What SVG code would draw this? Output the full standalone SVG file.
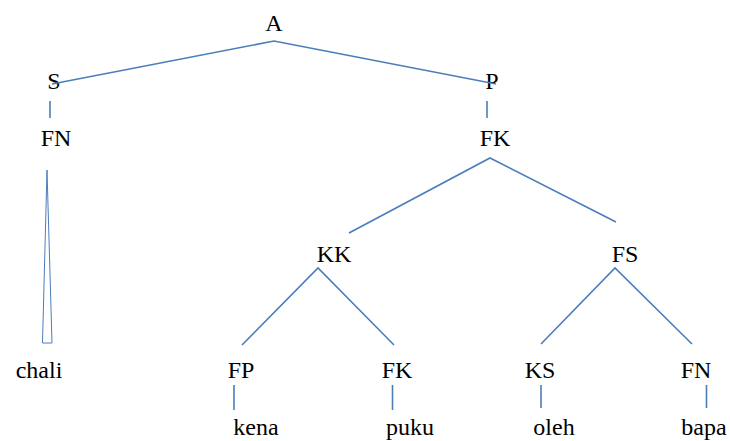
<svg xmlns="http://www.w3.org/2000/svg" width="730" height="441" viewBox="0 0 730 441">
  <style>
    .lbl { font-family: 'Liberation Serif', 'DejaVu Serif', 'Times New Roman', Times, serif; font-size: 24px; fill: #000; text-anchor: middle; }
    .edge { stroke: #4a7ebb; stroke-width: 1.6; fill: none; stroke-linecap: butt; }
    .tri { stroke: #4a7ebb; stroke-width: 1; fill: none; }
  </style>
  <rect width="730" height="441" fill="#fff"/>

  <!-- tree nodes -->
  <g id="n-A"><text class="lbl" x="274" y="31">A</text></g>
  <g id="n-S"><text class="lbl" x="54" y="89">S</text></g>
  <g id="n-P"><text class="lbl" x="492" y="89">P</text></g>
  <g id="n-FN1"><text class="lbl" x="56" y="146">FN</text></g>
  <g id="n-FK1"><text class="lbl" x="495" y="146">FK</text></g>
  <g id="n-chali"><text class="lbl" x="39" y="378">chali</text></g>
  <g id="n-KK"><text class="lbl" x="334" y="262">KK</text></g>
  <g id="n-FS"><text class="lbl" x="625" y="262">FS</text></g>
  <g id="n-FP"><text class="lbl" x="241" y="378">FP</text></g>
  <g id="n-FK2"><text class="lbl" x="397" y="378">FK</text></g>
  <g id="n-KS"><text class="lbl" x="540" y="378">KS</text></g>
  <g id="n-FN2"><text class="lbl" x="696" y="378">FN</text></g>
  <g id="n-kena"><text class="lbl" x="256" y="435">kena</text></g>
  <g id="n-puku"><text class="lbl" x="410" y="435">puku</text></g>
  <g id="n-oleh"><text class="lbl" x="554" y="435">oleh</text></g>
  <g id="n-bapa"><text class="lbl" x="704" y="435">bapa</text></g>

  <g id="connectors">
    <!-- A branches -->
    <polyline class="edge" points="52,84 274,41 496,84"/>
    <!-- unary links -->
    <line class="edge" x1="50" y1="101" x2="50" y2="118"/>
    <line class="edge" x1="487" y1="101" x2="487" y2="118"/>
    <!-- roof over chali -->
    <polygon class="tri" points="47,170 52,343 42.5,343"/>
    <!-- FK branches -->
    <polyline class="edge" points="349,233 490,158 616,222"/>
    <!-- KK branches -->
    <polyline class="edge" points="242,345 318,268 394,345"/>
    <!-- FS branches -->
    <polyline class="edge" points="541,344 615,268 692,344"/>
    <!-- terminal links -->
    <line class="edge" x1="234" y1="385" x2="234" y2="410"/>
    <line class="edge" x1="392.5" y1="385" x2="392.5" y2="410"/>
    <line class="edge" x1="541" y1="385" x2="541" y2="408"/>
    <line class="edge" x1="706.5" y1="385" x2="706.5" y2="408"/>
  </g>
</svg>
